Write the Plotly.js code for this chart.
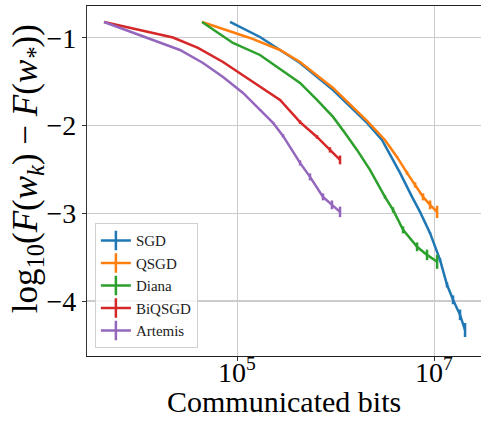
<!DOCTYPE html>
<html>
<head>
<meta charset="utf-8">
<script src="https://cdn.plot.ly/plotly-3.0.1.min.js"></script>
<style>html,body{margin:0;padding:0;overflow:hidden;background:#fff;}</style>
</head>
<body>
<div id="chart" style="width:481px;height:424px;"></div>
<script>
// Communicated bits (x) and log10(F(w_k) - F(w_*)) (y)
const sgdX = [84330, 169800, 271600, 433500, 937600, 2075000, 2944000, 4487000, 5943000, 7161000, 9036000, 11430000, 13460000, 15490000, 18240000, 20510000];
const sgdY = [-0.820, -0.991, -1.139, -1.287, -1.595, -1.970, -2.164, -2.540, -2.813, -2.984, -3.223, -3.531, -3.815, -3.986, -4.157, -4.330];
const sgdErr = [0, 0, 0, 0, 0, 0, 0, 0, 0, 0, 0.01, 0.02, 0.03, 0.05, 0.06, 0.08];

const qsgdX = [43850, 74990, 134600, 271600, 433500, 937600, 2075000, 3155000, 4178000, 5284000, 6383000, 7691000, 9057000, 10670000];
const qsgdY = [-0.820, -0.911, -1.002, -1.139, -1.276, -1.572, -1.948, -2.164, -2.358, -2.540, -2.677, -2.813, -2.904, -2.984];
const qsgdErr = [0, 0, 0, 0, 0, 0, 0, 0, 0.01, 0.02, 0.03, 0.04, 0.05, 0.07];

const dianaX = [43850, 90360, 169800, 271600, 433500, 644200, 937600, 1239000, 1641000, 2223000, 3155000, 3811000, 4819000, 6683000, 8433000, 10670000];
const dianaY = [-0.820, -1.059, -1.196, -1.355, -1.515, -1.708, -1.902, -2.084, -2.278, -2.506, -2.813, -2.961, -3.189, -3.382, -3.474, -3.553];
const dianaErr = [0, 0, 0, 0, 0, 0, 0, 0, 0, 0, 0.02, 0.03, 0.04, 0.05, 0.06, 0.08];

const biqsgdX = [4436, 22230, 39900, 71610, 134600, 191000, 271600, 433500, 644200, 873000, 1104000];
const biqsgdY = [-0.820, -0.997, -1.116, -1.276, -1.481, -1.595, -1.708, -1.961, -2.130, -2.278, -2.392];
const biqsgdErr = [0, 0, 0, 0, 0, 0, 0.01, 0.02, 0.02, 0.03, 0.05];

const artemisX = [4436, 26180, 44870, 71610, 114300, 170200, 230700, 291100, 433500, 547000, 741300, 914100, 1104000];
const artemisY = [-0.820, -1.139, -1.287, -1.446, -1.629, -1.822, -1.970, -2.118, -2.426, -2.585, -2.813, -2.904, -2.984];
const artemisErr = [0, 0, 0, 0, 0, 0.01, 0.01, 0.02, 0.03, 0.04, 0.04, 0.05, 0.06];

const seriesNames = ['SGD', 'QSGD', 'Diana', 'BiQSGD', 'Artemis'];
const seriesColors = ['#1f77b4', '#ff7f0e', '#2ca02c', '#d62728', '#9467bd'];
const xTickVals = [1e5, 1e7];
const xTickText = ['10<sup>5</sup>', '10<sup>7</sup>'];
const yTickVals = [-1, -2, -3, -4];
const xTitle = 'Communicated bits';
const yTitle = 'log<sub>10</sub>(<i>F</i>(<i>w<sub>k</sub></i>) − <i>F</i>(<i>w<sub>*</sub></i>))';

const xs = [sgdX, qsgdX, dianaX, biqsgdX, artemisX];
const ys = [sgdY, qsgdY, dianaY, biqsgdY, artemisY];
const es = [sgdErr, qsgdErr, dianaErr, biqsgdErr, artemisErr];

const FONT = 'Liberation Serif';
const traces = [];
for (let i = 0; i < seriesNames.length; i++) {
  traces.push({
    x: xs[i], y: ys[i], type: 'scatter', mode: 'lines', name: seriesNames[i],
    showlegend: false,
    line: {color: seriesColors[i], width: 2.5},
    error_y: {type: 'data', array: es[i], visible: true, width: 0, thickness: 2.5, color: seriesColors[i]}
  });
}
for (let i = 0; i < seriesNames.length; i++) {
  traces.push({
    x: [null], y: [null], type: 'scatter', mode: 'lines+markers', name: seriesNames[i],
    line: {color: seriesColors[i], width: 2.5},
    marker: {symbol: 'line-ns-open', size: 14, color: seriesColors[i], line: {color: seriesColors[i], width: 2.5}}
  });
}

// x tick labels placed on the log axis (annotation x is in log10 units on log axes)
const xTickLabels = xTickVals.map((v, i) => ({
  text: xTickText[i], xref: 'x', yref: 'paper', x: Math.log10(v), y: -0.097,
  xanchor: 'center', yanchor: 'bottom', showarrow: false,
  font: {family: FONT, size: 28, color: '#000'}
}));

const layout = {
  width: 481, height: 424,
  margin: {l: 87, r: 0, t: 6, b: 68},
  paper_bgcolor: '#fff', plot_bgcolor: '#fff',
  font: {family: FONT, color: '#000'},
  showlegend: true,
  legend: {
    x: 0.02, y: 0.022, xanchor: 'left', yanchor: 'bottom',
    bgcolor: 'rgba(255,255,255,0.8)', bordercolor: '#d0d0d0', borderwidth: 1,
    font: {family: FONT, size: 15, color: '#222'},
    tracegroupgap: 0
  },
  xaxis: {
    type: 'log', range: [3.474, 7.474],
    tickvals: xTickVals, showticklabels: false,
    ticks: 'outside', ticklen: 4, tickwidth: 1, tickcolor: '#333',
    showgrid: true, gridcolor: '#cccccc', gridwidth: 1.2,
    showline: true, linecolor: '#222', linewidth: 1.2, mirror: true,
    zeroline: false
  },
  yaxis: {
    range: [-4.626, -0.638],
    tickvals: yTickVals,
    tickfont: {family: FONT, size: 28, color: '#000'},
    ticks: 'outside', ticklen: 4, tickwidth: 1, tickcolor: '#333',
    showgrid: true, gridcolor: '#cccccc', gridwidth: 1.2,
    showline: true, linecolor: '#333', linewidth: 1.2, mirror: false,
    zeroline: false
  },
  annotations: xTickLabels.concat([
    {text: xTitle, xref: 'paper', yref: 'paper', x: 0.5, y: -0.078, xanchor: 'center', yanchor: 'top',
     showarrow: false, font: {family: FONT, size: 30, color: '#000'}},
    {text: yTitle, xref: 'paper', yref: 'paper', x: -0.152, y: 0.534, xanchor: 'center', yanchor: 'middle',
     textangle: -90, showarrow: false, font: {family: FONT, size: 35, color: '#000'}}
  ])
};

Plotly.newPlot('chart', traces, layout, {staticPlot: true, displayModeBar: false});
</script>
</body>
</html>
